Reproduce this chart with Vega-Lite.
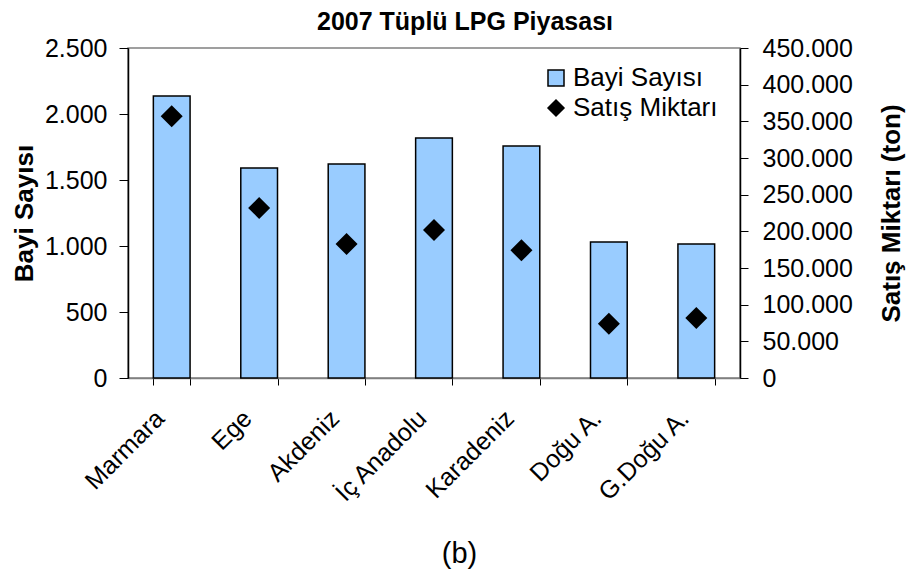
{
  "$schema": "https://vega.github.io/schema/vega-lite/v6.json",
  "width": 612,
  "height": 330,
  "autosize": "none",
  "padding": {"left": 128, "top": 48, "right": 167, "bottom": 195},
  "background": "white",
  "config": {
    "font": "Liberation Sans",
    "view": {"stroke": "#808080", "strokeWidth": 1.5},
    "axis": {"grid": false, "labelColor": "black", "titleColor": "black", "tickColor": "black", "labelFont": "Liberation Sans", "titleFont": "Liberation Sans"},
    "legend": {
      "orient": "none", "legendX": 415, "legendY": 17, "title": null,
      "labelFontSize": 26, "labelColor": "black", "labelFont": "Liberation Sans",
      "symbolSize": 256, "symbolStrokeColor": "black", "symbolStrokeWidth": 1.5,
      "padding": 0, "rowPadding": 4, "labelOffset": 4
    }
  },
  "title": {"text": "2007 Tüplü LPG Piyasası", "fontSize": 25, "fontWeight": "bold", "font": "Liberation Sans", "color": "black", "dx": 31, "offset": -19, "baseline": "alphabetic", "anchor": "middle"},
  "data": {"values": [
    {"bolge": "Marmara", "bayi": 2136, "satis": 356900},
    {"bolge": "Ege", "bayi": 1591, "satis": 231800},
    {"bolge": "Akdeniz", "bayi": 1621, "satis": 182700},
    {"bolge": "İç Anadolu", "bayi": 1818, "satis": 201800},
    {"bolge": "Karadeniz", "bayi": 1758, "satis": 174100},
    {"bolge": "Doğu A.", "bayi": 1030, "satis": 74100},
    {"bolge": "G.Doğu A.", "bayi": 1015, "satis": 81800}
  ]},
  "encoding": {
    "x": {"field": "bolge", "type": "nominal", "sort": null,
      "scale": {"paddingInner": 0.58, "paddingOuter": 0.29},
      "axis": {"title": "(b)", "titleFontSize": 29, "titleFontWeight": "normal", "titleX": 331, "titleY": 190, "titleBaseline": "bottom", "titleAlign": "center", "titleAngle": 0,
        "labelAngle": -45, "labelAlign": "right", "labelBaseline": "middle", "labelOffset": -12, "labelPadding": 29, "labelFontSize": 25,
        "tickBand": "extent", "tickSize": 7, "domainColor": "#808080", "domainWidth": 1.5, "labelOverlap": false}}
  },
  "layer": [
    {
      "mark": {"type": "bar", "stroke": "black", "strokeWidth": 1.5},
      "encoding": {
        "y": {"field": "bayi", "type": "quantitative", "scale": {"domain": [0, 2500], "nice": false},
          "axis": {"title": "Bayi Sayısı", "values": [0, 500, 1000, 1500, 2000, 2500], "labelExpr": "replace(format(datum.value, ','), ',', '.')",
            "labelFontSize": 25, "tickSize": 9, "labelPadding": 12, "domainColor": "black", "domainWidth": 1.5, "labelFlush": false, "labelOverlap": false,
            "titleFontSize": 26, "titleFontWeight": "bold", "titleX": -104, "titleY": 165, "titleAngle": -90, "titleAlign": "center", "titleBaseline": "middle"}},
        "color": {"datum": "Bayi Sayısı", "type": "nominal", "scale": {"domain": ["Bayi Sayısı", "Satış Miktarı"], "range": ["#99CCFF", "#000000"]}}
      }
    },
    {
      "mark": {"type": "point", "filled": true, "size": 484, "opacity": 1},
      "encoding": {
        "y": {"field": "satis", "type": "quantitative", "scale": {"domain": [0, 450000], "nice": false},
          "axis": {"orient": "right", "title": "Satış Miktarı (ton)", "values": [0, 50000, 100000, 150000, 200000, 250000, 300000, 350000, 400000, 450000],
            "labelExpr": "replace(format(datum.value, ','), ',', '.')",
            "labelFontSize": 25, "tickSize": 8, "labelPadding": 14, "domainColor": "black", "domainWidth": 1.5, "labelFlush": false, "labelOverlap": false,
            "titleFontSize": 26, "titleFontWeight": "bold", "titleX": 151, "titleY": 165, "titleAngle": -90, "titleAlign": "center", "titleBaseline": "middle"}},
        "color": {"datum": "Satış Miktarı", "type": "nominal", "scale": {"domain": ["Bayi Sayısı", "Satış Miktarı"], "range": ["#99CCFF", "#000000"]}},
        "shape": {"datum": "Satış Miktarı", "type": "nominal", "scale": {"domain": ["Bayi Sayısı", "Satış Miktarı"], "range": ["square", "diamond"]}}
      }
    }
  ],
  "resolve": {"scale": {"y": "independent"}}
}
